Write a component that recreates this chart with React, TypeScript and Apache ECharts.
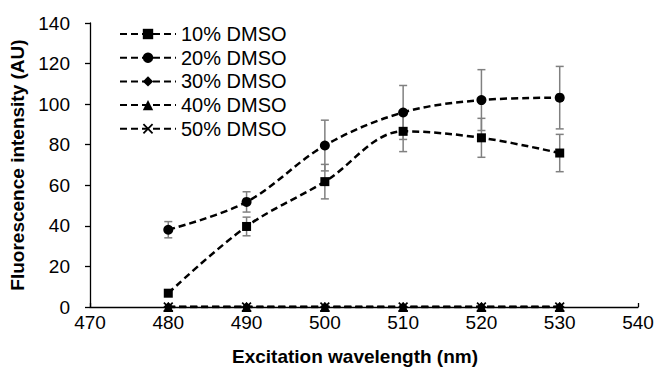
import React, { useEffect, useRef } from "react";
import * as echarts from "echarts";

const wavelengths = [480, 490, 500, 510, 520, 530];
const dmso10 = [6.8, 39.7, 61.8, 86.6, 83.4, 75.9];
const dmso10Err = [0, 4.6, 8.5, 10, 9.6, 9.2];
const dmso20 = [38.1, 51.8, 79.6, 95.9, 102.0, 103.2];
const dmso20Err = [4, 5, 12.5, 13.3, 15, 15.4];
const dmso30 = [0, 0, 0, 0, 0, 0];
const dmso40 = [0, 0, 0, 0, 0, 0];
const dmso50 = [0, 0, 0, 0, 0, 0];
const seriesNames = ["10% DMSO", "20% DMSO", "30% DMSO", "40% DMSO", "50% DMSO"];
const yTitle = "Fluorescence intensity (AU)";
const xTitle = "Excitation wavelength (nm)";

const FONT = "'Liberation Sans', Arial, sans-serif";
const X_SYMBOL =
  "path://M0,1.2L1.2,0L5,3.8L8.8,0L10,1.2L6.2,5L10,8.8L8.8,10L5,6.2L1.2,10L0,8.8L3.8,5Z";

export default function App() {
  const ref = useRef<HTMLDivElement>(null);
  useEffect(() => {
    if (!ref.current) return;
    const chart = echarts.init(ref.current, undefined, { renderer: "svg" });
    const lineStyle = { color: "#000", width: 2.5, type: [7, 4] as number[] };
    const mk = (name: string, values: number[], symbol: string, size: number, z = 3) => ({
      name,
      type: "line",
      data: wavelengths.map((w, i) => [w, values[i]]),
      symbol,
      symbolSize: size,
      smooth: 0.35,
      lineStyle,
      itemStyle: { color: "#000" },
      z,
    });
    const errSeries = (values: number[], errs: number[]) => ({
      type: "custom",
      silent: true,
      z: 2,
      data: wavelengths.map((w, i) => [w, values[i], errs[i]]),
      renderItem: (params: any, api: any) => {
        const x = api.value(0);
        const y = api.value(1);
        const e = api.value(2);
        if (!e) return { type: "group", children: [] };
        const top = api.coord([x, y + e]);
        const bot = api.coord([x, y - e]);
        const hw = 4;
        const style = { stroke: "#808080", lineWidth: 1.5 };
        return {
          type: "group",
          children: [
            { type: "line", shape: { x1: top[0], y1: top[1], x2: bot[0], y2: bot[1] }, style },
            { type: "line", shape: { x1: top[0] - hw, y1: top[1], x2: top[0] + hw, y2: top[1] }, style },
            { type: "line", shape: { x1: bot[0] - hw, y1: bot[1], x2: bot[0] + hw, y2: bot[1] }, style },
          ],
        };
      },
    });
    chart.setOption({
      animation: false,
      backgroundColor: "#fff",
      textStyle: { fontFamily: FONT },
      grid: { left: 90, right: 20, top: 23, bottom: 65 },
      legend: {
        data: seriesNames,
        orient: "vertical",
        left: 114,
        top: 19,
        itemWidth: 56,
        itemHeight: 13,
        itemGap: 3.7,
        textStyle: { fontSize: 20, color: "#000", fontFamily: FONT, lineHeight: 20, padding: [0, 0, 0, 0] },
      },
      xAxis: {
        type: "value",
        min: 470,
        max: 540,
        interval: 10,
        name: xTitle,
        nameLocation: "middle",
        nameGap: 40,
        nameTextStyle: {
          fontSize: 19,
          fontWeight: "bold",
          color: "#000",
          fontFamily: FONT,
          padding: [0, 18, 0, 0],
        },
        axisLine: { lineStyle: { color: "#000", width: 1.3 } },
        axisTick: { show: true, inside: true, length: 4, lineStyle: { color: "#000", width: 1.3 } },
        splitLine: { show: false },
        axisLabel: { fontSize: 19, color: "#000", margin: 6, fontFamily: FONT },
      },
      yAxis: {
        type: "value",
        min: 0,
        max: 140,
        interval: 20,
        name: yTitle,
        nameLocation: "middle",
        nameGap: 42,
        nameTextStyle: { fontSize: 19, fontWeight: "bold", color: "#000", fontFamily: FONT },
        axisLine: { show: true, lineStyle: { color: "#000", width: 1.3 } },
        axisTick: { show: true, length: 5, lineStyle: { color: "#000", width: 1.3 } },
        splitLine: { show: false },
        axisLabel: { fontSize: 19, color: "#000", margin: 20, fontFamily: FONT },
      },
      series: [
        errSeries(dmso10, dmso10Err),
        errSeries(dmso20, dmso20Err),
        mk(seriesNames[0], dmso10, "rect", 9, 5),
        mk(seriesNames[1], dmso20, "circle", 10, 5),
        mk(seriesNames[2], dmso30, "diamond", 10, 4),
        mk(seriesNames[3], dmso40, "triangle", 10, 4),
        mk(seriesNames[4], dmso50, X_SYMBOL, 10, 4),
      ],
    });
    return () => chart.dispose();
  }, []);
  return (
    <div
      ref={ref}
      style={{ position: "fixed", left: 0, top: 0, width: 658, height: 372 }}
    />
  );
}
